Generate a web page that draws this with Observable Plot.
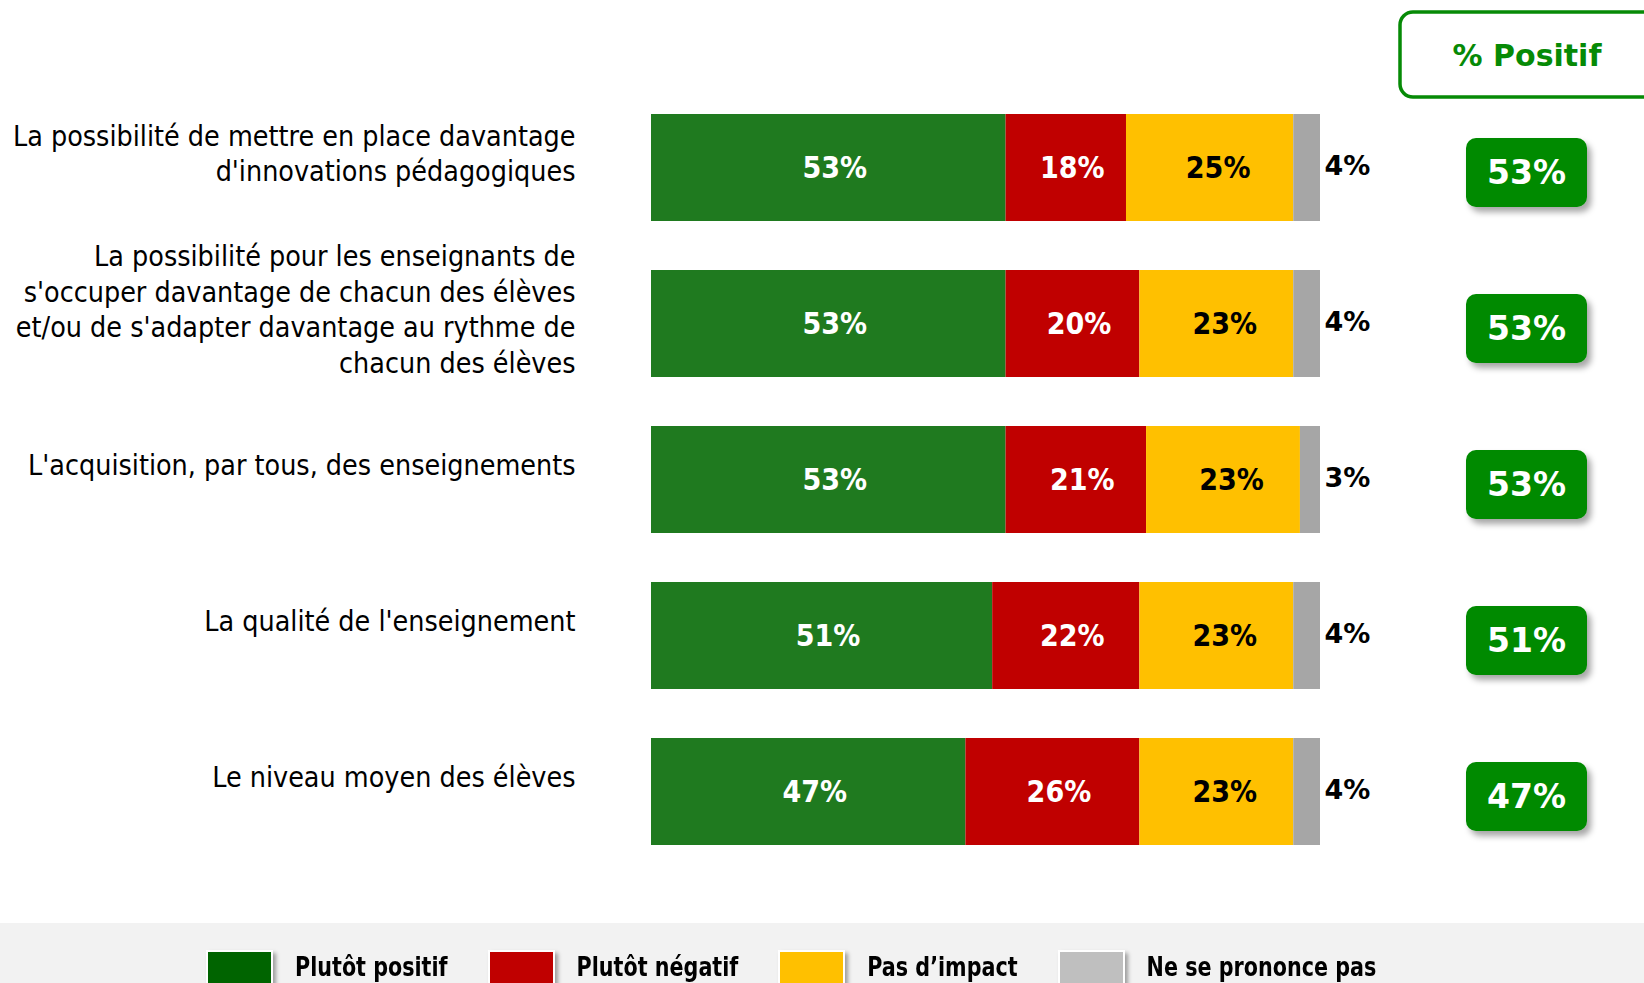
<!DOCTYPE html>
<html>
<head>
<meta charset="utf-8">
<script src="https://cdn.jsdelivr.net/npm/d3@7"></script>
<script src="https://cdn.jsdelivr.net/npm/@observablehq/plot@0.6"></script>
<style>
  html, body { margin: 0; padding: 0; background: #fff; overflow: hidden; }
  #legend { height: 60px; background: #f2f2f2; position: relative; overflow: hidden;
            display: flex; align-items: flex-start; padding-left: 206px; box-sizing: border-box;
            font-family: "DejaVu Sans Condensed", "DejaVu Sans", sans-serif; font-weight: bold; font-size: 23px; color: #000; }
  .item { display: flex; align-items: flex-start; margin-right: 40px; }
  .sw { width: 63px; height: 44px; margin-top: 27px; border: 2px solid #fff; box-shadow: 3px 3px 4px rgba(0,0,0,0.35); }
  .lab { margin-left: 22px; margin-top: 27px; line-height: 30px; transform: scaleY(1.12); transform-origin: top; }
</style>
</head>
<body>
<div id="chart"></div>
<div id="legend"></div>
<script>
const categories = [
  "La possibilité de mettre en place davantage\nd'innovations pédagogiques",
  "La possibilité pour les enseignants de\ns'occuper davantage de chacun des élèves\net/ou de s'adapter davantage au rythme de\nchacun des élèves",
  "L'acquisition, par tous, des enseignements",
  "La qualité de l'enseignement",
  "Le niveau moyen des élèves"
];
const seriesNames = ["Plutôt positif", "Plutôt négatif", "Pas d’impact", "Ne se prononce pas"];
const positive  = [53, 53, 53, 51, 47];
const negative  = [18, 20, 21, 22, 26];
const noImpact  = [25, 23, 23, 23, 23];
const noOpinion = [4, 4, 3, 4, 4];
const positiveShare = [53, 53, 53, 51, 47];
const barColors    = ["#1f7a1f", "#c00000", "#ffc000", "#a6a6a6"];
const legendColors = ["#006400", "#c00000", "#ffc000", "#bfbfbf"];
const headerText = "% Positif";

const seriesValues = [positive, negative, noImpact, noOpinion];
const rows = [];
categories.forEach((c, i) => {
  let acc = 0;
  seriesValues.forEach((vals, j) => {
    const v = vals[i];
    rows.push({cat: c, series: seriesNames[j], value: v, x1: acc, x2: acc + v});
    acc += v;
  });
});
const totals = categories.map((c, i) => ({cat: c, total: d3.sum(seriesValues, s => s[i]), pos: positiveShare[i]}));

const plot = Plot.plot({
  width: 1644,
  height: 923,
  marginLeft: 651,
  marginRight: 324,
  marginTop: 64,
  marginBottom: 29,
  x: {domain: [0, 100], axis: null},
  y: {domain: categories, axis: null, padding: 0.315},
  color: {domain: seriesNames, range: barColors},
  style: {fontFamily: "DejaVu Sans", background: "white", overflow: "visible"},
  marks: [
    Plot.barX(rows, {x1: "x1", x2: "x2", y: "cat", fill: "series"}),
    Plot.text(rows.filter(d => d.series === seriesNames[0] || d.series === seriesNames[1]), {
      x: d => (d.x1 + d.x2) / 2, y: "cat", text: d => d.value + "%",
      fill: "white", fontWeight: "bold", fontSize: 30, fontFamily: "DejaVu Sans Condensed", dx: 6
    }),
    Plot.text(rows.filter(d => d.series === seriesNames[2]), {
      x: d => (d.x1 + d.x2) / 2, y: "cat", text: d => d.value + "%",
      fill: "black", fontWeight: "bold", fontSize: 30, fontFamily: "DejaVu Sans Condensed", dx: 8
    }),
    Plot.text(rows.filter(d => d.series === seriesNames[3]), {
      x: "x2", y: "cat", text: d => d.value + "%", textAnchor: "start",
      fill: "black", fontWeight: "bold", fontSize: 27, dx: 4, dy: -2
    }),
    Plot.text(categories, {
      y: d => d, frameAnchor: "left", dx: -76, dy: -16, textAnchor: "end", lineAnchor: "middle",
      text: d => d, fill: "#000", fontSize: 28.4, lineHeight: 1.25, fontFamily: "DejaVu Sans Condensed"
    }),
    Plot.barX(totals, {
      x1: "total", x2: "total", y: "cat", fill: "#068a06",
      insetLeft: 146, insetRight: -267, insetTop: 24, insetBottom: 14, rx: 10,
      ariaDescription: "badges"
    }),
    Plot.text(totals, {
      x: "total", y: "cat", text: d => d.pos + "%", dx: 206, dy: 5,
      fill: "white", fontWeight: "bold", fontSize: 33
    })
  ]
});
document.getElementById("chart").appendChild(plot);

const svg = d3.select(plot);
const defs = svg.insert("defs", ":first-child");
const f = defs.append("filter").attr("id", "shadow").attr("x", "-20%").attr("y", "-20%").attr("width", "150%").attr("height", "160%");
f.append("feDropShadow").attr("dx", 4).attr("dy", 5).attr("stdDeviation", 3).attr("flood-color", "#000").attr("flood-opacity", 0.35);
svg.selectAll('g[aria-description="badges"] rect').attr("filter", "url(#shadow)");

const hdr = svg.append("g");
hdr.append("rect").attr("x", 1400).attr("y", 12).attr("width", 320).attr("height", 85).attr("rx", 13)
  .attr("fill", "white").attr("stroke", "#068a06").attr("stroke-width", 3.5);
hdr.append("text").attr("x", 1527).attr("y", 55).attr("text-anchor", "middle").attr("dominant-baseline", "central")
  .attr("fill", "#068a06").attr("font-weight", "bold").attr("font-size", 30).attr("font-family", "DejaVu Sans").text(headerText);

const legend = d3.select("#legend");
seriesNames.forEach((s, i) => {
  const it = legend.append("div").attr("class", "item");
  it.append("div").attr("class", "sw").style("background", legendColors[i]);
  it.append("div").attr("class", "lab").text(s);
});
</script>
</body>
</html>
